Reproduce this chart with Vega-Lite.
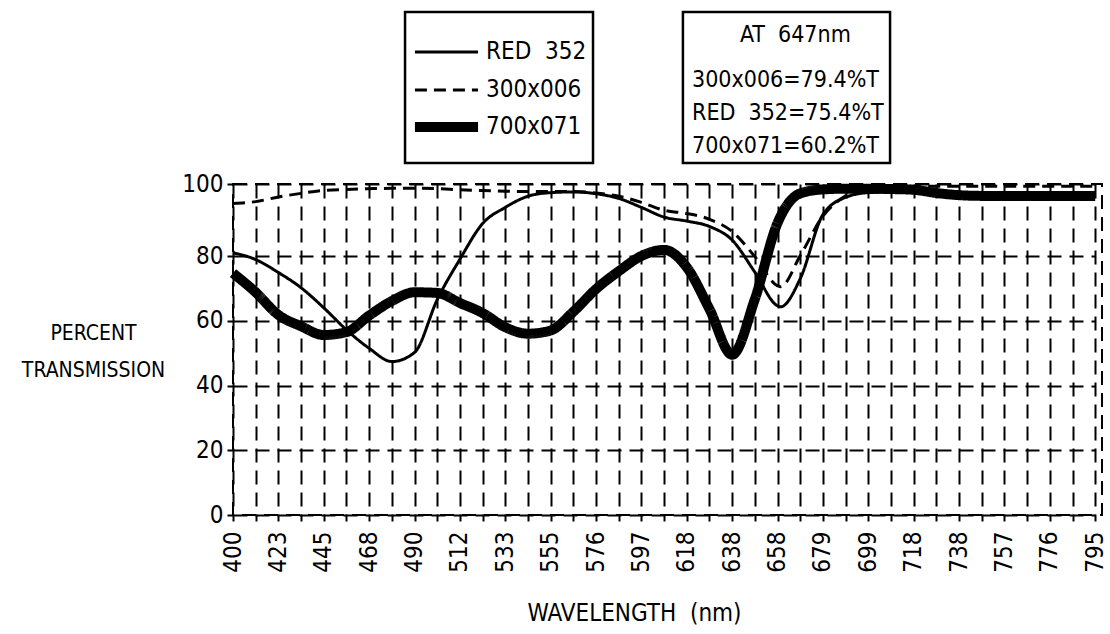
{
  "$schema": "https://vega.github.io/schema/vega-lite/v6.json",
  "width": 869,
  "height": 331,
  "autosize": {"type": "none"},
  "padding": {"left": 233, "top": 184, "right": 8, "bottom": 119},
  "background": "white",
  "config": {
    "view": {"stroke": "black", "strokeWidth": 2, "strokeDash": [14, 8]},
    "axis": {
      "grid": true, "gridColor": "black", "gridDash": [14, 8], "gridWidth": 2, "gridOpacity": 1,
      "domain": false, "tickColor": "black", "tickWidth": 2, "tickSize": 6,
      "labelFont": "DejaVu Sans Condensed, Liberation Sans, sans-serif", "labelFontSize": 24, "labelColor": "black",
      "titleFont": "DejaVu Sans Condensed, Liberation Sans, sans-serif", "titleColor": "black", "titleFontWeight": "normal"
    },
    "text": {"font": "DejaVu Sans Condensed, Liberation Sans, sans-serif", "color": "black"}
  },
  "datasets": {
    "curves": [
      {"series": "700x071", "nm": 400, "pct": 74.7},
      {"series": "700x071", "nm": 411.5, "pct": 68.8},
      {"series": "700x071", "nm": 423, "pct": 61.8},
      {"series": "700x071", "nm": 434, "pct": 58.3},
      {"series": "700x071", "nm": 445, "pct": 55.6},
      {"series": "700x071", "nm": 456.5, "pct": 56.5},
      {"series": "700x071", "nm": 468, "pct": 61.6},
      {"series": "700x071", "nm": 479, "pct": 66.1},
      {"series": "700x071", "nm": 490, "pct": 68.8},
      {"series": "700x071", "nm": 501, "pct": 68.6},
      {"series": "700x071", "nm": 512, "pct": 65.5},
      {"series": "700x071", "nm": 522.5, "pct": 62.4},
      {"series": "700x071", "nm": 533, "pct": 58.0},
      {"series": "700x071", "nm": 544, "pct": 56.0},
      {"series": "700x071", "nm": 555, "pct": 57.0},
      {"series": "700x071", "nm": 565.5, "pct": 62.8},
      {"series": "700x071", "nm": 576, "pct": 69.8},
      {"series": "700x071", "nm": 586.5, "pct": 75.3},
      {"series": "700x071", "nm": 597, "pct": 80.0},
      {"series": "700x071", "nm": 607.5, "pct": 81.7},
      {"series": "700x071", "nm": 618, "pct": 76.5},
      {"series": "700x071", "nm": 628, "pct": 63.6},
      {"series": "700x071", "nm": 638, "pct": 49.5},
      {"series": "700x071", "nm": 648, "pct": 66.7},
      {"series": "700x071", "nm": 658, "pct": 89.2},
      {"series": "700x071", "nm": 668.5, "pct": 97.4},
      {"series": "700x071", "nm": 679, "pct": 98.5},
      {"series": "700x071", "nm": 689, "pct": 98.7},
      {"series": "700x071", "nm": 699, "pct": 98.7},
      {"series": "700x071", "nm": 708.5, "pct": 98.6},
      {"series": "700x071", "nm": 718, "pct": 98.4},
      {"series": "700x071", "nm": 728, "pct": 97.5},
      {"series": "700x071", "nm": 738, "pct": 96.9},
      {"series": "700x071", "nm": 747.5, "pct": 96.7},
      {"series": "700x071", "nm": 757, "pct": 96.7},
      {"series": "700x071", "nm": 766.5, "pct": 96.7},
      {"series": "700x071", "nm": 776, "pct": 96.7},
      {"series": "700x071", "nm": 785.5, "pct": 96.7},
      {"series": "700x071", "nm": 795, "pct": 96.7},

      {"series": "RED 352", "nm": 400, "pct": 80.9},
      {"series": "RED 352", "nm": 411.5, "pct": 78.9},
      {"series": "RED 352", "nm": 423, "pct": 74.9},
      {"series": "RED 352", "nm": 434, "pct": 70.2},
      {"series": "RED 352", "nm": 445, "pct": 64.0},
      {"series": "RED 352", "nm": 456.5, "pct": 57.2},
      {"series": "RED 352", "nm": 468, "pct": 51.5},
      {"series": "RED 352", "nm": 479, "pct": 47.4},
      {"series": "RED 352", "nm": 490, "pct": 50.2},
      {"series": "RED 352", "nm": 501, "pct": 66.5},
      {"series": "RED 352", "nm": 512, "pct": 79.0},
      {"series": "RED 352", "nm": 522.5, "pct": 89.0},
      {"series": "RED 352", "nm": 533, "pct": 93.5},
      {"series": "RED 352", "nm": 544, "pct": 96.6},
      {"series": "RED 352", "nm": 555, "pct": 97.6},
      {"series": "RED 352", "nm": 565.5, "pct": 97.8},
      {"series": "RED 352", "nm": 576, "pct": 97.3},
      {"series": "RED 352", "nm": 586.5, "pct": 96.0},
      {"series": "RED 352", "nm": 597, "pct": 93.5},
      {"series": "RED 352", "nm": 607.5, "pct": 90.8},
      {"series": "RED 352", "nm": 618, "pct": 89.7},
      {"series": "RED 352", "nm": 628, "pct": 88.2},
      {"series": "RED 352", "nm": 638, "pct": 84.4},
      {"series": "RED 352", "nm": 648, "pct": 75.0},
      {"series": "RED 352", "nm": 658, "pct": 64.6},
      {"series": "RED 352", "nm": 659.4, "pct": 64.3},
      {"series": "RED 352", "nm": 668.5, "pct": 73.0},
      {"series": "RED 352", "nm": 679, "pct": 91.5},
      {"series": "RED 352", "nm": 689, "pct": 96.3},
      {"series": "RED 352", "nm": 699, "pct": 97.6},
      {"series": "RED 352", "nm": 708.5, "pct": 97.8},
      {"series": "RED 352", "nm": 718, "pct": 97.8},
      {"series": "RED 352", "nm": 728, "pct": 97.7},
      {"series": "RED 352", "nm": 738, "pct": 97.6},
      {"series": "RED 352", "nm": 747.5, "pct": 97.6},
      {"series": "RED 352", "nm": 757, "pct": 97.6},
      {"series": "RED 352", "nm": 766.5, "pct": 97.6},
      {"series": "RED 352", "nm": 776, "pct": 97.6},
      {"series": "RED 352", "nm": 785.5, "pct": 97.6},
      {"series": "RED 352", "nm": 795, "pct": 97.6},

      {"series": "300x006", "nm": 400, "pct": 94.6},
      {"series": "300x006", "nm": 411.5, "pct": 95.1},
      {"series": "300x006", "nm": 423, "pct": 96.4},
      {"series": "300x006", "nm": 434, "pct": 97.4},
      {"series": "300x006", "nm": 445, "pct": 98.2},
      {"series": "300x006", "nm": 456.5, "pct": 98.5},
      {"series": "300x006", "nm": 468, "pct": 98.7},
      {"series": "300x006", "nm": 479, "pct": 98.8},
      {"series": "300x006", "nm": 490, "pct": 98.8},
      {"series": "300x006", "nm": 501, "pct": 98.7},
      {"series": "300x006", "nm": 512, "pct": 98.4},
      {"series": "300x006", "nm": 522.5, "pct": 98.2},
      {"series": "300x006", "nm": 533, "pct": 98.0},
      {"series": "300x006", "nm": 544, "pct": 97.9},
      {"series": "300x006", "nm": 555, "pct": 97.9},
      {"series": "300x006", "nm": 565.5, "pct": 97.9},
      {"series": "300x006", "nm": 576, "pct": 97.5},
      {"series": "300x006", "nm": 586.5, "pct": 96.6},
      {"series": "300x006", "nm": 597, "pct": 94.9},
      {"series": "300x006", "nm": 607.5, "pct": 92.7},
      {"series": "300x006", "nm": 618, "pct": 91.8},
      {"series": "300x006", "nm": 628, "pct": 90.2},
      {"series": "300x006", "nm": 638, "pct": 86.8},
      {"series": "300x006", "nm": 648, "pct": 79.8},
      {"series": "300x006", "nm": 658, "pct": 70.8},
      {"series": "300x006", "nm": 659.4, "pct": 70.5},
      {"series": "300x006", "nm": 668.5, "pct": 80.1},
      {"series": "300x006", "nm": 679, "pct": 91.1},
      {"series": "300x006", "nm": 689, "pct": 96.7},
      {"series": "300x006", "nm": 699, "pct": 98.8},
      {"series": "300x006", "nm": 708.5, "pct": 99.3},
      {"series": "300x006", "nm": 718, "pct": 99.4},
      {"series": "300x006", "nm": 728, "pct": 99.4},
      {"series": "300x006", "nm": 738, "pct": 99.4},
      {"series": "300x006", "nm": 747.5, "pct": 99.4},
      {"series": "300x006", "nm": 757, "pct": 99.4},
      {"series": "300x006", "nm": 766.5, "pct": 99.4},
      {"series": "300x006", "nm": 776, "pct": 99.4},
      {"series": "300x006", "nm": 785.5, "pct": 99.4},
      {"series": "300x006", "nm": 795, "pct": 99.4}
    ],
    "boxes": [
      {"box": "legend", "nm": 485.4, "nm2": 574.6, "pct": 147.8, "pct2": 105.8},
      {"box": "note", "nm": 616.2, "nm2": 708.1, "pct": 147.8, "pct2": 105.8}
    ],
    "legend": [
      {"series": "RED 352", "label": "RED\u00a0\u00a0352", "nm": 490.2, "nm2": 520.4, "pct": 136.7},
      {"series": "300x006", "label": "300x006", "nm": 490.2, "nm2": 520.4, "pct": 126.1},
      {"series": "700x071", "label": "700x071", "nm": 490.2, "nm2": 520.4, "pct": 115.8}
    ],
    "notes": [
      {"label": "AT\u00a0\u00a0647nm", "nm": 641.4, "pct": 141.4},
      {"label": "300x006=79.4%T", "nm": 620.3, "pct": 128.9},
      {"label": "RED\u00a0\u00a0352=75.4%T", "nm": 620.3, "pct": 119.7},
      {"label": "700x071=60.2%T", "nm": 620.3, "pct": 110.6}
    ]
  },
  "encoding": {
    "x": {
      "field": "nm", "type": "quantitative",
      "scale": {
        "domain": [400, 423, 445, 468, 490, 512, 533, 555, 576, 597, 618, 638, 658, 679, 699, 718, 738, 757, 776, 795],
        "range": [0, 45.38, 90.76, 136.14, 181.52, 226.9, 272.28, 317.66, 363.04, 408.42, 453.8, 499.18, 544.56, 589.94, 635.32, 680.7, 726.08, 771.46, 816.84, 862.22],
        "nice": false, "zero": false
      },
      "axis": {
        "values": [400, 411.5, 423, 434, 445, 456.5, 468, 479, 490, 501, 512, 522.5, 533, 544, 555, 565.5, 576, 586.5, 597, 607.5, 618, 628, 638, 648, 658, 668.5, 679, 689, 699, 708.5, 718, 728, 738, 747.5, 757, 766.5, 776, 785.5, 795],
        "labelExpr": "indexof([400,423,445,468,490,512,533,555,576,597,618,638,658,679,699,718,738,757,776,795], datum.value) >= 0 ? datum.label : ''",
        "labelAngle": 270, "labelPadding": 10, "labelOverlap": false, "labelFlush": false,
        "title": "WAVELENGTH\u00a0\u00a0(nm)", "titleFontSize": 24, "titleX": 401, "titleY": 98, "titleBaseline": "middle"
      }
    },
    "y": {
      "field": "pct", "type": "quantitative",
      "scale": {"domain": [0, 80, 100], "range": [331, 72, 0], "nice": false, "zero": false},
      "axis": {
        "values": [0, 20, 40, 60, 80, 100], "labelPadding": 4,
        "title": ["PERCENT", "TRANSMISSION"], "titleAngle": 0, "titleAlign": "center",
        "titleBaseline": "middle", "titleX": -140, "titleY": 149, "titleFontSize": 21, "titleLineHeight": 37
      }
    },
    "strokeDash": {"field": "series", "type": "nominal", "legend": null,
      "scale": {"domain": ["RED 352", "300x006", "700x071"], "range": [[1, 0], [12, 7], [1, 0]]}},
    "strokeWidth": {"field": "series", "type": "ordinal", "legend": null,
      "scale": {"type": "ordinal", "domain": ["RED 352", "300x006", "700x071"], "range": [3, 3, 10]}}
  },
  "layer": [
    {
      "data": {"name": "curves"},
      "mark": {"type": "line", "interpolate": "monotone", "color": "black", "strokeCap": "butt"},
      "encoding": {
        "detail": {"field": "series"}
      }
    },
    {
      "data": {"name": "boxes"},
      "mark": {"type": "rect", "fill": "white", "stroke": "black", "strokeWidth": 2.5},
      "encoding": {
        "x2": {"field": "nm2"},
        "y2": {"field": "pct2"},
        "strokeDash": {"value": [1, 0]},
        "strokeWidth": {"value": 2.5}
      }
    },
    {
      "data": {"name": "legend"},
      "mark": {"type": "rule", "color": "black", "strokeCap": "butt"},
      "encoding": {
        "x2": {"field": "nm2"}
      }
    },
    {
      "data": {"name": "legend"},
      "mark": {"type": "text", "align": "left", "baseline": "middle", "fontSize": 24, "dx": 8},
      "encoding": {
        "x": {"field": "nm2", "type": "quantitative"},
        "text": {"field": "label"},
        "strokeDash": {"value": [1, 0]},
        "strokeWidth": {"value": 0}
      }
    },
    {
      "data": {"name": "notes"},
      "mark": {"type": "text", "align": "left", "baseline": "middle", "fontSize": 23},
      "encoding": {
        "text": {"field": "label"},
        "strokeDash": {"value": [1, 0]},
        "strokeWidth": {"value": 0}
      }
    }
  ]
}
